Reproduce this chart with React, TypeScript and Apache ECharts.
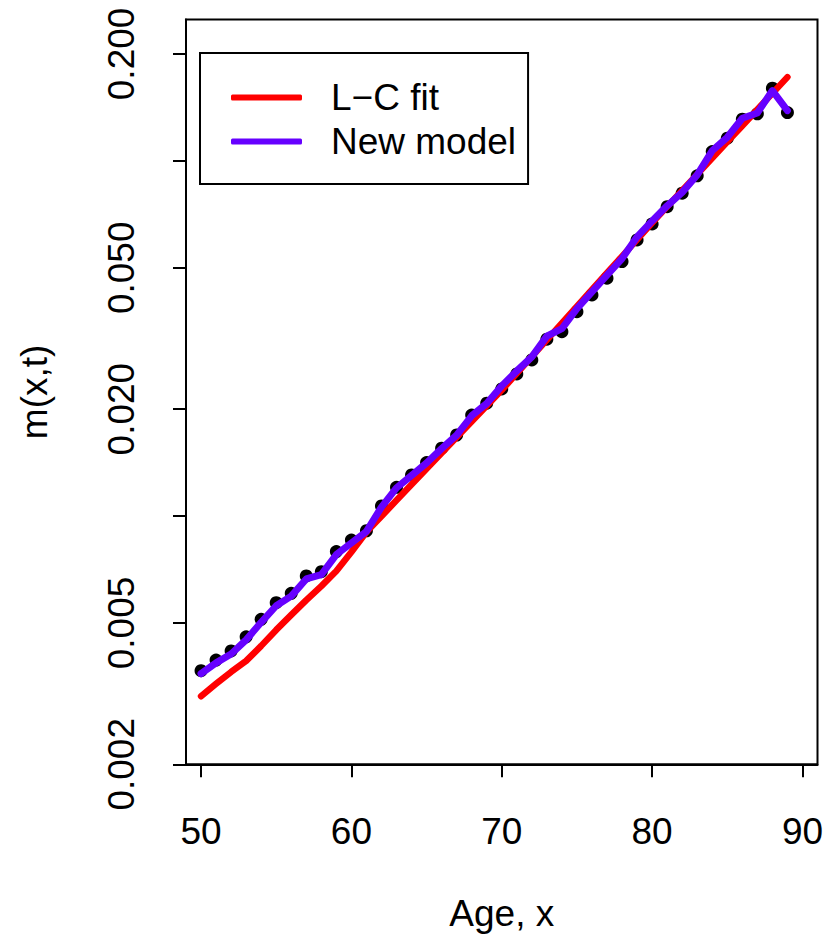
import React, { useEffect, useRef } from 'react';
import * as echarts from 'echarts';

// Ages (x)
const ages: number[] = [
  50, 51, 52, 53, 54, 55, 56, 57, 58, 59,
  60, 61, 62, 63, 64, 65, 66, 67, 68, 69,
  70, 71, 72, 73, 74, 75, 76, 77, 78, 79,
  80, 81, 82, 83, 84, 85, 86, 87, 88, 89,
];

// Observed death rates m(x,t) (black points)
const observedRates: number[] = [
  0.00367, 0.00393, 0.00417, 0.00457, 0.00512, 0.0057, 0.00606, 0.00678, 0.00697, 0.00794,
  0.00856, 0.00909, 0.01068, 0.01205, 0.01305, 0.01414, 0.01552, 0.01691, 0.01925, 0.02078,
  0.0228, 0.02512, 0.02751, 0.03146, 0.03304, 0.03762, 0.04192, 0.04672, 0.05204, 0.0599,
  0.06642, 0.0743, 0.08106, 0.09072, 0.1062, 0.1158, 0.131, 0.1356, 0.1602, 0.1367,
];

// Lee–Carter fit (red)
const lcFit: number[] = [
  0.00311, 0.00337, 0.00364, 0.00391, 0.00431, 0.00478, 0.00527, 0.0058, 0.00635, 0.007,
  0.00792, 0.00902, 0.00999, 0.01107, 0.01226, 0.01358, 0.01504, 0.01666, 0.01845, 0.02044,
  0.02264, 0.02524, 0.02812, 0.03134, 0.03492, 0.0389, 0.04336, 0.04832, 0.05384, 0.06,
  0.06686, 0.0743, 0.0825, 0.0916, 0.1018, 0.1131, 0.1256, 0.1395, 0.1549, 0.1721,
];

// New model fit (violet)
const newModel: number[] = [
  0.0036, 0.00386, 0.00409, 0.00448, 0.00502, 0.00559, 0.00595, 0.00665, 0.00684, 0.00779,
  0.0084, 0.00905, 0.0106, 0.012, 0.013, 0.0141, 0.01548, 0.0169, 0.01915, 0.02075,
  0.02325, 0.02562, 0.02806, 0.03209, 0.0337, 0.03837, 0.04276, 0.04765, 0.05308, 0.0611,
  0.06775, 0.0747, 0.0815, 0.0913, 0.1068, 0.1165, 0.1318, 0.1364, 0.1577, 0.1385,
];

const xTicks: number[] = [50, 60, 70, 80, 90];
const yTicks: number[] = [0.002, 0.005, 0.01, 0.02, 0.05, 0.1, 0.2];
const yTickLabels: number[] = [0.002, 0.005, 0.02, 0.05, 0.2];

const seriesNames = { lc: 'L\u2212C fit', nm: 'New model', obs: 'Observed' };

export default function App() {
  const ref = useRef<HTMLDivElement>(null);

  useEffect(() => {
    if (!ref.current) return;
    const chart = echarts.init(ref.current, null, { renderer: 'svg' });
    const font = "'Liberation Sans', Arial, Helvetica, sans-serif";
    const pair = (vals: number[]) => ages.map((a, i) => [a, vals[i]]);

    chart.setOption({
      animation: false,
      backgroundColor: '#ffffff',
      textStyle: { fontFamily: font, color: '#000' },
      grid: {
        left: 186,
        right: 10.5,
        top: 19.5,
        bottom: 178.7,
        show: true,
        borderColor: '#000',
        borderWidth: 2,
        backgroundColor: 'transparent',
      },
      legend: {
        show: true,
        orient: 'vertical',
        left: 200,
        top: 53,
        data: [seriesNames.lc, seriesNames.nm],
        icon: 'roundRect',
        itemWidth: 71,
        itemHeight: 6,
        itemGap: 7,
        padding: [26, 12, 24, 31],
        borderColor: '#000',
        borderWidth: 2,
        backgroundColor: '#fff',
        textStyle: {
          fontFamily: font,
          fontSize: 37,
          lineHeight: 37,
          color: '#000',
          padding: [0, 0, 0, 24],
        },
      },
      xAxis: {
        type: 'value',
        min: 49,
        max: 91,
        name: 'Age, x',
        nameLocation: 'middle',
        nameGap: 131,
        nameTextStyle: { fontFamily: font, fontSize: 37, color: '#000' },
        axisLine: { show: true, lineStyle: { color: '#000', width: 2 } },
        axisTick: { show: true, length: 13, lineStyle: { color: '#000', width: 2 }, customValues: xTicks },
        axisLabel: {
          show: true,
          margin: 49,
          fontFamily: font,
          fontSize: 37,
          color: '#000',
          customValues: xTicks,
        },
        splitLine: { show: false },
      },
      yAxis: {
        type: 'log',
        logBase: 10,
        min: 0.002,
        max: 0.25,
        name: 'm(x,t)',
        nameLocation: 'middle',
        nameGap: 133,
        nameRotate: 90,
        nameTextStyle: { fontFamily: font, fontSize: 37, color: '#000' },
        axisLine: { show: true, lineStyle: { color: '#000', width: 2 } },
        axisTick: { show: true, length: 13, lineStyle: { color: '#000', width: 2 }, customValues: yTicks },
        axisLabel: {
          show: true,
          rotate: 90,
          margin: 46,
          fontFamily: font,
          fontSize: 37,
          color: '#000',
          customValues: yTickLabels,
          formatter: (v: number) => Number(v).toFixed(3),
        },
        splitLine: { show: false },
      },
      series: [
        {
          name: seriesNames.obs,
          type: 'scatter',
          data: pair(observedRates),
          symbol: 'circle',
          symbolSize: 13,
          itemStyle: { color: '#000', opacity: 1 },
          z: 2,
        },
        {
          name: seriesNames.lc,
          type: 'line',
          data: pair(lcFit),
          symbol: 'none',
          color: '#ff0000',
          lineStyle: { color: '#ff0000', width: 6.5, cap: 'round', join: 'round' },
          z: 3,
        },
        {
          name: seriesNames.nm,
          type: 'line',
          data: pair(newModel),
          symbol: 'none',
          color: '#6600ff',
          lineStyle: { color: '#6600ff', width: 7, cap: 'round', join: 'round' },
          z: 4,
        },
      ],
    });

    return () => chart.dispose();
  }, []);

  return (
    <div
      ref={ref}
      style={{ position: 'fixed', left: 0, top: 0, width: 828, height: 943, background: '#fff' }}
    />
  );
}
